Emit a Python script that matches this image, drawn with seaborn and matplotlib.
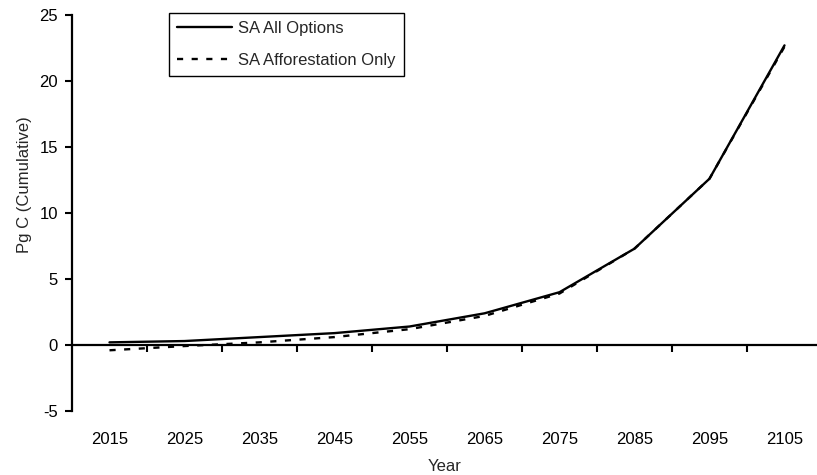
import numpy as np
import pandas as pd
import matplotlib
matplotlib.use('Agg')
import matplotlib.pyplot as plt
import seaborn as sns

# Chart data
years = ['2015', '2025', '2035', '2045', '2055', '2065', '2075', '2085', '2095', '2105']
all_options = [0.2, 0.3, 0.6, 0.9, 1.4, 2.4, 4.0, 7.3, 12.6, 22.7]
afforestation_only = [-0.4, -0.08, 0.2, 0.6, 1.2, 2.2, 3.9, 7.3, 12.6, 22.6]
series_names = ['SA All Options', 'SA Afforestation Only']

# Long-form table for seaborn
pos = np.arange(len(years))
df = pd.concat([
    pd.DataFrame({'pos': pos, 'value': all_options, 'series': series_names[0]}),
    pd.DataFrame({'pos': pos, 'value': afforestation_only, 'series': series_names[1]}),
])

sns.set_theme(style='white')
plt.rcParams['font.family'] = ['Liberation Sans', 'DejaVu Sans']
plt.rcParams['font.size'] = 12
plt.rcParams['axes.unicode_minus'] = False

fig = plt.figure(figsize=(8.17, 4.75), dpi=100)
ax = fig.add_axes([72 / 817, 64 / 475, 745 / 817, 396 / 475])

sns.lineplot(data=df, x='pos', y='value', style='series', style_order=series_names,
             dashes={series_names[0]: '', series_names[1]: (2.6, 3.6)},
             color='black', linewidth=1.7, ax=ax)

ax.set_ylim(-5, 25)
ax.set_xlim(-0.5, len(years) - 0.5 - 5 / 75)
ax.set_yticks(range(-5, 30, 5))
ax.tick_params(axis='y', left=True, length=5, width=1.5, color='black',
               labelsize=12, pad=5, labelcolor='black')

# x axis line sits at zero, ticks on category boundaries
for s in ['top', 'right']:
    ax.spines[s].set_visible(False)
ax.spines['left'].set_color('black')
ax.spines['left'].set_linewidth(1.6)
ax.spines['bottom'].set_position(('data', 0))
ax.spines['bottom'].set_color('black')
ax.spines['bottom'].set_linewidth(1.6)
ax.set_xticks(pos[:-1] + 0.5)
ax.set_xticklabels([])
ax.tick_params(axis='x', bottom=True, direction='out', length=5, width=1.5, color='black')
ax.set_xlabel('')

# category labels along the bottom
sec = ax.secondary_xaxis(0)
sec.set_xticks(pos, labels=years)
sec.tick_params(length=0, pad=15, labelsize=12, labelcolor='black')
sec.spines['bottom'].set_visible(False)
sec.set_xlabel('Year', fontsize=12, labelpad=9)

ax.set_ylabel('Pg C (Cumulative)', fontsize=12)
ax.yaxis.set_label_coords(-0.054, 0.571)

handles, labels = ax.get_legend_handles_labels()
leg = ax.legend(handles, labels, loc='upper left', bbox_to_anchor=(169 / 817, 1 - 13 / 475),
                bbox_transform=fig.transFigure, borderaxespad=0, fancybox=False,
                framealpha=1, edgecolor='black', handlelength=3.3, handletextpad=0.35,
                borderpad=0.5, labelspacing=1.0, fontsize=12, title=None)
leg.get_frame().set_linewidth(1.0)

fig.savefig('out.png', dpi=100)
